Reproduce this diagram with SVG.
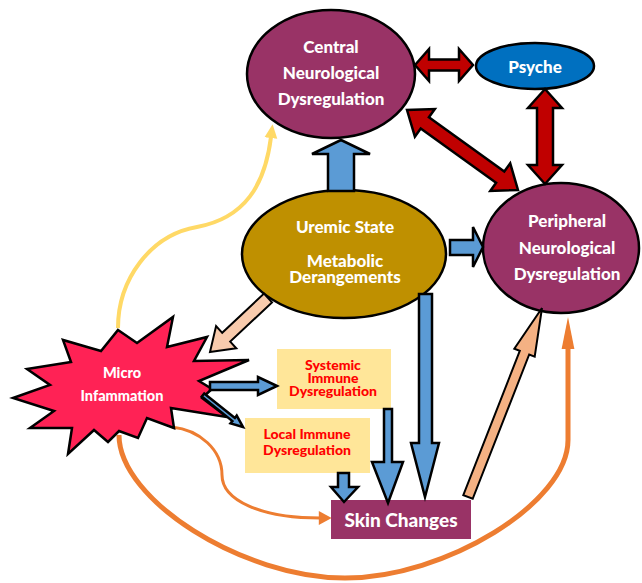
<svg xmlns="http://www.w3.org/2000/svg" width="642" height="583" viewBox="0 0 642 583">
<style>
  .ol { stroke:#000; stroke-width:2.5; stroke-linejoin:miter; }
  .red { fill:#C00000; stroke:#000; stroke-width:2.5; }
  .blue { fill:#5B9BD5; stroke:#000; stroke-width:2.5; }
  .peach1 { fill:#F8CBAD; stroke:#000; stroke-width:2; }
  .peach2 { fill:#F4B183; stroke:#000; stroke-width:2; }
  .wt { font-family:Lato, "Open Sans", sans-serif; font-weight:900; fill:#fff; text-anchor:middle; }
  .rt { font-family:Lato, "Open Sans", sans-serif; font-weight:900; fill:#FF0000; text-anchor:middle; font-size:14px; }
  .purple { fill:#993366; }
  .ybox { fill:#FFE699; }
</style>
<defs>
  <marker id="hy" markerUnits="userSpaceOnUse" markerWidth="14" markerHeight="14" viewBox="0 0 13 12" refX="1" refY="6" orient="auto">
    <path d="M0,0 L13,6 L0,12 z" fill="#FFD966"/>
  </marker>
  <marker id="ho" markerUnits="userSpaceOnUse" markerWidth="14" markerHeight="14" viewBox="0 0 11 12" refX="1" refY="6" orient="auto">
    <path d="M0,0 L11,6 L0,12 z" fill="#ED7D31"/>
  </marker>
  <marker id="hol" markerUnits="userSpaceOnUse" markerWidth="32" markerHeight="14" viewBox="0 0 30 12" refX="1" refY="6" orient="auto">
    <path d="M0,0 L30,6 L0,12 z" fill="#ED7D31"/>
  </marker>
</defs>

<g id="connectors-back">
  <path d="M118,328 C118,280 150,235 197,227 C245,218 265,185 271,137" fill="none" stroke="#FFD966" stroke-width="4" marker-end="url(#hy)"/>
  <path d="M119,435 C119,500 243,578 345,578 C445,578 568,503 568,440 L568,348" fill="none" stroke="#ED7D31" stroke-width="5" marker-end="url(#hol)"/>
  <path d="M172,427 C200,430 222,450 222,475 C222,500 260,518 320,518" fill="none" stroke="#ED7D31" stroke-width="3" marker-end="url(#ho)"/>
</g>

<g id="central">
  <ellipse cx="331" cy="74" rx="84" ry="64" class="purple ol"/>
  <text class="wt" font-size="17" x="331" y="53">Central</text>
  <text class="wt" font-size="17" x="331" y="79">Neurological</text>
  <text class="wt" font-size="17" x="331" y="105">Dysregulation</text>
</g>

<g id="psyche">
  <ellipse cx="535" cy="66" rx="59" ry="23" fill="#0070C0" class="ol"/>
  <text class="wt" font-size="17" x="535" y="72.5">Psyche</text>
</g>

<g id="uremic">
  <ellipse cx="344" cy="254" rx="102" ry="64" fill="#BF9000" class="ol"/>
  <text class="wt" font-size="17" x="345" y="233">Uremic State</text>
  <text class="wt" font-size="17" x="345" y="267">Metabolic</text>
  <text class="wt" font-size="17" x="345" y="283">Derangements</text>
</g>

<g id="peripheral">
  <ellipse cx="561" cy="248" rx="78" ry="65" class="purple ol"/>
  <text class="wt" font-size="17" x="567" y="227">Peripheral</text>
  <text class="wt" font-size="17" x="567" y="254">Neurological</text>
  <text class="wt" font-size="17" x="567" y="280">Dysregulation</text>
</g>

<g id="micro">
  <polygon fill="#FF2255" class="ol" points="118,330 137,343 173,317 167,347 207,337 194,361 249,360 199,381 212,389 202,398 227,417 171,408 174,428 147,418 138,438 119,431 108,442 94,430 68,454 72,428 30,428 54,411 13,398 50,385 27,369 71,362 63,340 101,351"/>
  <text class="wt" font-size="14.5" x="122" y="378">Micro</text>
  <text class="wt" font-size="14.5" x="122" y="401">Infammation</text>
</g>

<g id="systemic">
  <rect x="277" y="349" width="114" height="60" class="ybox"/>
  <text class="rt" x="333" y="369.5">Systemic</text>
  <text class="rt" x="333" y="382.5">Immune</text>
  <text class="rt" x="333" y="396">Dysregulation</text>
</g>

<g id="local">
  <rect x="245" y="418" width="125" height="55" class="ybox"/>
  <text class="rt" x="307" y="439">Local Immune</text>
  <text class="rt" x="307" y="455">Dysregulation</text>
</g>

<g id="skin">
  <rect x="331" y="500" width="140" height="39" class="purple"/>
  <text class="wt" font-size="19" x="401" y="526.5">Skin Changes</text>
</g>

<g id="connectors">
  <polygon class="red" points="415,65 429,49 429,59.5 459,59.5 459,49 473,65 459,81 459,70.5 429,70.5 429,81"/>
  <polygon class="red" points="545,89 562,108 553,108 553,165 562,165 545,184 528,165 537,165 537,108 528,108"/>
  <polygon class="red" points="407,110 414.9,136.7 420.7,128.6 496.1,182.8 490.3,190.9 518,190 510.2,163.3 504.3,171.4 428.9,117.2 434.8,109.1"/>
  <polygon class="blue" points="341,140 370,154 354,154 354,191 328,191 328,154 312,154"/>
  <polygon class="blue" points="483,247 473,227 473,240 450,240 450,255 473,255 473,267"/>
  <polygon class="blue" points="425,497 439,443 432,443 432,294 419,294 419,443 411,443"/>
  <polygon class="blue" points="388,503 403,462 392,462 392,409 384,409 384,462 372,462"/>
  <polygon class="blue" points="344,502 358,487 349,487 349,473 338,473 338,487 331,487"/>
  <polygon class="blue" points="277,386 258,377 258,382 210,382 210,390 258,390 258,395"/>
  <polygon class="peach1" points="210,352 236.3,348.3 230.2,341.6 272,302.4 264,293.6 222.2,332.8 216.1,326.1"/>
  <polygon class="peach2" points="542,308 534.7,356.7 529.2,354.5 472.7,498.8 463.3,495.2 519.8,350.9 514.3,348.7"/>
  <polygon fill="#5B9BD5" stroke="#000" stroke-width="2.5" points="243,427 230.5,423.4 232.4,421.1 201.75,396.56 204.25,393.44 234.9,417.9 236.7,415.6"/>
</g>
</svg>
